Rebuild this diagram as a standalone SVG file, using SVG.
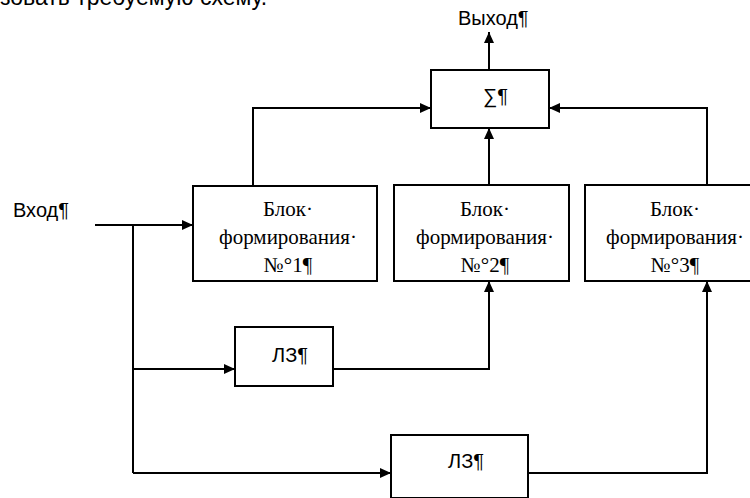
<svg xmlns="http://www.w3.org/2000/svg" width="750" height="498" viewBox="0 0 750 498">
<style>
.box{fill:#fff;stroke:#000;stroke-width:2}
.conn path{fill:none;stroke:#000;stroke-width:2}
.sans{font-family:"Liberation Sans",Arial,sans-serif;font-size:20px;fill:#000}
.serif{font-family:"Liberation Serif","DejaVu Serif","Noto Serif","Times New Roman",serif;font-size:21px;fill:#000;text-anchor:middle}
</style>
<defs>
<marker id="arr" markerWidth="11" markerHeight="10" refX="11" refY="5" orient="auto" markerUnits="userSpaceOnUse">
<path d="M0,0 L11,5 L0,10 Z" fill="#000"/>
</marker>
</defs>
<rect width="750" height="498" fill="#fff"/>
<text class="sans" x="0" y="5" style="font-size:23px">зовать требуемую схему.</text>
<text class="sans" x="458" y="25">Выход¶</text>
<text class="sans" x="13" y="217">Вход¶</text>
<g class="conn">
<path d="M489,70 V32" marker-end="url(#arr)"/>
<path d="M253,186 V108 H431" marker-end="url(#arr)"/>
<path d="M707,185 V108 H549" marker-end="url(#arr)"/>
<path d="M489,185 V128" marker-end="url(#arr)"/>
<path d="M95,225 H193" marker-end="url(#arr)"/>
<path d="M133,225 V473"/>
<path d="M133,369 H235" marker-end="url(#arr)"/>
<path d="M333,369 H489 V281" marker-end="url(#arr)"/>
<path d="M133,473 H391" marker-end="url(#arr)"/>
<path d="M528,473 H707 V281" marker-end="url(#arr)"/>
</g>
<g id="sum">
<rect class="box" x="431" y="70" width="118" height="58"/>
<text class="sans" x="483" y="103">∑¶</text>
</g>
<g id="block1">
<rect class="box" x="193" y="186" width="184" height="95"/>
<text class="serif" x="288" y="216">Блок·</text>
<text class="serif" x="288" y="244">формирования·</text>
<text class="serif" x="288" y="272">№°1¶</text>
</g>
<g id="block2">
<rect class="box" x="394" y="185" width="175" height="96"/>
<text class="serif" x="485" y="216">Блок·</text>
<text class="serif" x="485" y="244">формирования·</text>
<text class="serif" x="485" y="272">№°2¶</text>
</g>
<g id="block3">
<rect class="box" x="585" y="185" width="175" height="96"/>
<text class="serif" x="675" y="216">Блок·</text>
<text class="serif" x="675" y="244">формирования·</text>
<text class="serif" x="675" y="272">№°3¶</text>
</g>
<g id="lz1">
<rect class="box" x="235" y="327" width="98" height="59"/>
<text class="sans" x="272" y="362">ЛЗ¶</text>
</g>
<g id="lz2">
<rect class="box" x="391" y="435" width="137" height="63"/>
<text class="sans" x="448" y="468">ЛЗ¶</text>
</g>
</svg>
